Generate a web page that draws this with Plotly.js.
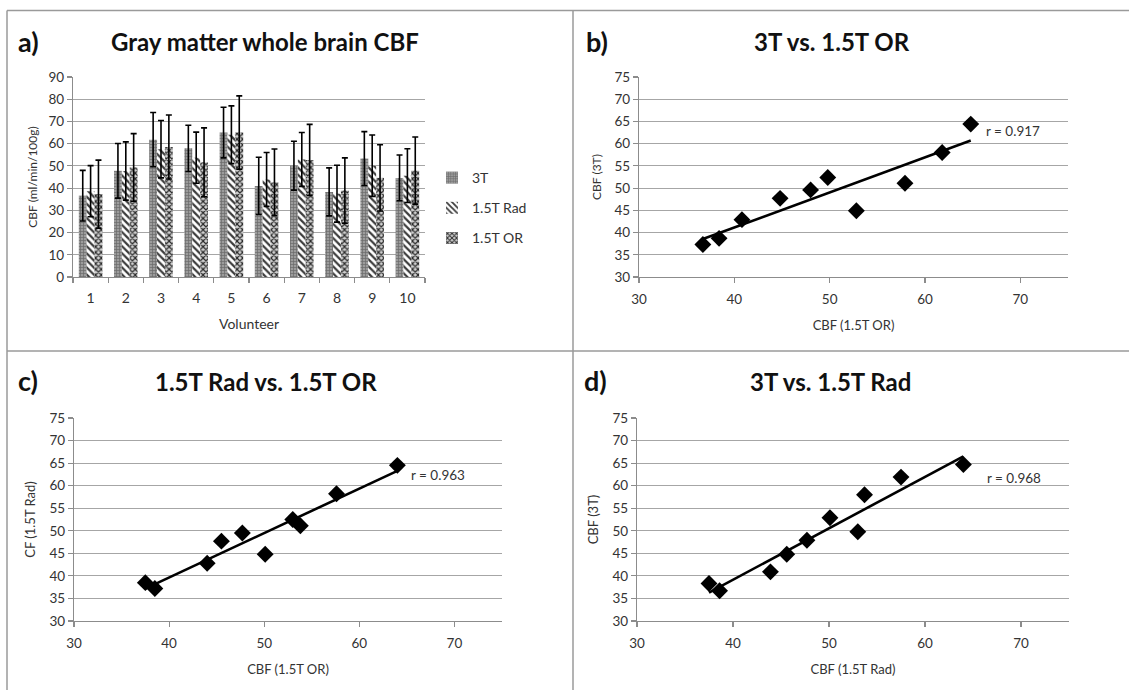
<!DOCTYPE html>
<html>
<head>
<meta charset="utf-8">
<script src="https://cdn.plot.ly/plotly-3.0.1.min.js"></script>
<style>html,body{margin:0;padding:0;background:#fff;}#chart{width:1129px;height:690px;}</style>
</head>
<body>
<div id="chart"></div>
<script>
// ---- Panel a: bar chart data ----
const volunteers = ['1','2','3','4','5','6','7','8','9','10'];
const cbf3T   = [36.6, 47.8, 61.8, 57.9, 65.0, 41.0, 50.1, 38.3, 53.3, 44.6];
const sd3T    = [11.4, 12.3, 12.2, 10.4, 11.4, 12.9, 11.0, 10.8, 12.1, 10.3];
const cbfRad  = [38.6, 47.7, 57.5, 53.7, 64.0, 43.9, 52.9, 37.5, 50.1, 45.6];
const sdRad   = [11.5, 13.1, 12.9, 11.5, 13.0, 12.1, 12.1, 12.8, 13.8, 12.1];
const cbfOR   = [37.3, 49.3, 58.5, 51.6, 65.0, 42.6, 52.7, 38.9, 44.6, 47.9];
const sdOR    = [15.3, 15.2, 14.4, 15.5, 16.5, 15.0, 16.0, 14.7, 14.9, 15.1];
const seriesNames = ['3T', '1.5T Rad', '1.5T OR'];

// ---- Panel b: 3T vs. 1.5T OR ----
const bX = [36.7, 38.4, 40.8, 44.8, 48.0, 49.8, 52.8, 57.9, 61.8, 64.8];
const bY = [37.3, 38.7, 42.9, 47.7, 49.6, 52.4, 44.9, 51.1, 58.0, 64.4];
const bR = 'r = 0.917';

// ---- Panel c: 1.5T Rad vs. 1.5T OR ----
const cX = [37.5, 38.5, 44.0, 45.5, 47.7, 50.1, 53.0, 53.8, 57.6, 64.0];
const cY = [38.5, 37.2, 42.8, 47.7, 49.5, 44.8, 52.5, 51.1, 58.2, 64.5];
const cR = 'r = 0.963';

// ---- Panel d: 3T vs. 1.5T Rad ----
const dX = [37.5, 38.6, 43.9, 45.6, 47.7, 50.1, 53.0, 53.7, 57.5, 64.0];
const dY = [38.3, 36.7, 40.9, 44.8, 47.9, 52.9, 49.8, 58.0, 61.9, 64.7];
const dR = 'r = 0.968';

const panelTitles = ['Gray matter whole brain CBF', '3T vs. 1.5T OR', '1.5T Rad vs. 1.5T OR', '3T vs. 1.5T Rad'];
const panelLetters = ['a)', 'b)', 'c)', 'd)'];

// linear least-squares trend line (Excel-style), spanning the data x-range
function trend(xs, ys) {
  const n = xs.length;
  const mx = xs.reduce((a, b) => a + b, 0) / n;
  const my = ys.reduce((a, b) => a + b, 0) / n;
  let sxy = 0, sxx = 0;
  for (let i = 0; i < n; i++) { sxy += (xs[i] - mx) * (ys[i] - my); sxx += (xs[i] - mx) ** 2; }
  const m = sxy / sxx, c = my - m * mx;
  const x0 = Math.min(...xs), x1 = Math.max(...xs);
  return { x: [x0, x1], y: [m * x0 + c, m * x1 + c] };
}

const FONT = 'Lato, "Open Sans", sans-serif';
const TXT = '#333';
const GRID = '#a6a6a6';
const AXL = '#8c8c8c';

const errStyle = { type: 'data', visible: true, color: '#000', thickness: 1.6, width: 3 };

const traces = [
  { type: 'bar', name: seriesNames[0], x: volunteers, y: cbf3T, xaxis: 'x', yaxis: 'y',
    legendgroup: 'g1',
    error_y: Object.assign({ array: sd3T }, errStyle),
    marker: { color: '#8a8a8a', line: { width: 0 },
      pattern: { shape: '+', fgcolor: '#6a6a6a', bgcolor: '#9c9c9c', size: 3, solidity: 0.4 } } },
  { type: 'bar', name: seriesNames[1], x: volunteers, y: cbfRad, xaxis: 'x', yaxis: 'y',
    legendgroup: 'g2',
    error_y: Object.assign({ array: sdRad }, errStyle),
    marker: { color: '#ffffff', line: { width: 0 },
      pattern: { shape: '\\', fgcolor: '#3c3c3c', bgcolor: '#ffffff', size: 5, solidity: 0.45 } } },
  { type: 'bar', name: seriesNames[2], x: volunteers, y: cbfOR, xaxis: 'x', yaxis: 'y',
    legendgroup: 'g3',
    error_y: Object.assign({ array: sdOR }, errStyle),
    marker: { color: '#ffffff', line: { width: 0 },
      pattern: { shape: 'x', fgcolor: '#2a2a2a', bgcolor: '#d0d0d0', size: 4, solidity: 0.5 } } }
];

const scatterSets = [[bX, bY, 'x2', 'y2'], [cX, cY, 'x3', 'y3'], [dX, dY, 'x4', 'y4']];
scatterSets.forEach(([xs, ys, xa, ya]) => {
  traces.push({ type: 'scatter', mode: 'markers', x: xs, y: ys, xaxis: xa, yaxis: ya, showlegend: false,
    marker: { symbol: 'diamond', size: 13, color: '#000' } });
  const t = trend(xs, ys);
  traces.push({ type: 'scatter', mode: 'lines', x: t.x, y: t.y, xaxis: xa, yaxis: ya, showlegend: false,
    line: { color: '#000', width: 2.6 } });
});

const W = 1129, H = 690;
const px = v => v / W, py = v => 1 - v / H;

function yAx(domainTop, domainBot, range, dtick, title, standoff, tsize) {
  return {
    domain: [py(domainBot), py(domainTop)], range: range, dtick: dtick, tick0: 0,
    showgrid: true, gridcolor: GRID, gridwidth: 1.2, zeroline: false,
    showline: true, linecolor: AXL, linewidth: 1.2,
    ticks: 'outside', ticklen: 5, tickcolor: AXL, tickwidth: 1.2,
    tickfont: { family: FONT, size: 13.5, color: TXT },
    title: { text: title, font: { family: FONT, size: tsize, color: TXT }, standoff: standoff },
    automargin: false, fixedrange: true
  };
}
function xAxNum(l, r, anchor, title) {
  return {
    domain: [px(l), px(r)], range: [30, 75], tickvals: [30, 40, 50, 60, 70], anchor: anchor,
    showgrid: false, zeroline: false, showline: true, linecolor: AXL, linewidth: 1.2,
    ticks: 'outside', ticklen: 5, tickcolor: AXL, tickwidth: 1.2, ticklabelstandoff: 5,
    tickfont: { family: FONT, size: 13.5, color: TXT },
    title: { text: title, font: { family: FONT, size: 13, color: TXT }, standoff: 14 },
    automargin: false, fixedrange: true
  };
}

const layout = {
  width: W, height: H,
  margin: { l: 0, r: 0, t: 0, b: 0 },
  paper_bgcolor: '#fff', plot_bgcolor: 'rgba(0,0,0,0)',
  font: { family: FONT, color: TXT },
  barmode: 'group', bargap: 0.33, bargroupgap: 0,
  showlegend: true,
  legend: { x: px(432), y: py(162), xanchor: 'left', yanchor: 'top',
    font: { family: FONT, size: 14, color: TXT }, tracegroupgap: 9, bgcolor: 'rgba(0,0,0,0)' },
  xaxis: {
    domain: [px(73), px(425)], type: 'category', anchor: 'y', tickson: 'boundaries',
    showgrid: false, zeroline: false, showline: true, linecolor: AXL, linewidth: 1.2,
    ticks: 'outside', ticklen: 5, tickcolor: AXL, tickwidth: 1.2, ticklabelstandoff: 8,
    tickfont: { family: FONT, size: 14, color: TXT },
    title: { text: 'Volunteer', font: { family: FONT, size: 14, color: TXT }, standoff: 14 },
    automargin: false, fixedrange: true
  },
  yaxis: yAx(77, 277, [0, 90], 10, 'CBF (ml/min/100g)', 8, 12),
  xaxis2: xAxNum(639, 1068, 'y2', 'CBF (1.5T OR)'),
  yaxis2: Object.assign(yAx(77, 277, [30, 75], 5, 'CBF (3T)', 10, 12), { anchor: 'x2' }),
  xaxis3: xAxNum(74, 502, 'y3', 'CBF (1.5T OR)'),
  yaxis3: Object.assign(yAx(418, 621, [30, 75], 5, 'CF (1.5T Rad)', 10, 13), { anchor: 'x3' }),
  xaxis4: xAxNum(637, 1069, 'y4', 'CBF (1.5T Rad)'),
  yaxis4: Object.assign(yAx(418, 621, [30, 75], 5, 'CBF (3T)', 10, 13), { anchor: 'x4' }),
  shapes: [
    { type: 'line', xref: 'paper', yref: 'paper', x0: px(7), x1: 1, y0: py(10.5), y1: py(10.5), line: { color: '#9a9a9a', width: 1.5 } },
    { type: 'line', xref: 'paper', yref: 'paper', x0: px(7), x1: 1, y0: py(351), y1: py(351), line: { color: '#9a9a9a', width: 1.5 } },
    { type: 'line', xref: 'paper', yref: 'paper', x0: px(7), x1: px(7), y0: py(10.5), y1: 0, line: { color: '#9a9a9a', width: 1.5 } },
    { type: 'line', xref: 'paper', yref: 'paper', x0: px(573), x1: px(573), y0: py(10.5), y1: 0, line: { color: '#9a9a9a', width: 1.5 } }
  ],
  annotations: []
};

const titlePos = [[265, 42], [832, 42], [266, 382], [830, 382]];
const letterPos = [[16, 42], [584, 42], [16, 380], [582, 380]];
for (let i = 0; i < 4; i++) {
  layout.annotations.push({ xref: 'paper', yref: 'paper', x: px(titlePos[i][0]), y: py(titlePos[i][1]),
    xanchor: 'center', yanchor: 'middle', showarrow: false, text: '<b>' + panelTitles[i] + '</b>',
    font: { family: FONT, size: 24, color: '#111' } });
  layout.annotations.push({ xref: 'paper', yref: 'paper', x: px(letterPos[i][0]), y: py(letterPos[i][1]),
    xanchor: 'left', yanchor: 'middle', showarrow: false, text: '<b>' + panelLetters[i] + '</b>',
    font: { family: FONT, size: 27, color: '#111' } });
}
const rLabels = [[bR, 'x2', 'y2', 66.2, 62.8], [cR, 'x3', 'y3', 65.2, 62.4], [dR, 'x4', 'y4', 66.2, 61.8]];
rLabels.forEach(([t, xa, ya, x, y]) => {
  layout.annotations.push({ xref: xa, yref: ya, x: x, y: y, xanchor: 'left', yanchor: 'middle',
    showarrow: false, text: t, font: { family: FONT, size: 13.5, color: TXT } });
});

Plotly.newPlot('chart', traces, layout, { staticPlot: true, displayModeBar: false });
</script>
</body>
</html>
